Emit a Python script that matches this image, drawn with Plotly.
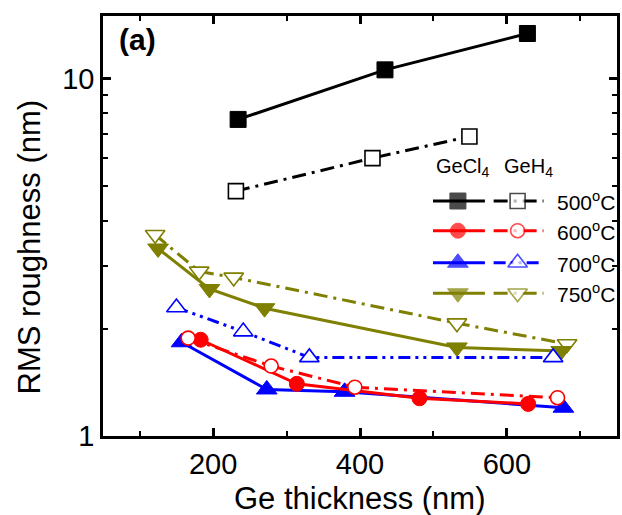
import math
import plotly.graph_objects as go

FONT = "Arial, 'Liberation Sans', Helvetica, sans-serif"

# ---------------- data ----------------
temps = ["500", "600", "700", "750"]

x_gecl4_500 = [234, 434, 628]
y_gecl4_500 = [7.7, 10.6, 13.4]
x_geh4_500 = [231, 417, 549]
y_geh4_500 = [4.85, 6.0, 6.9]

x_gecl4_600 = [183, 314, 481, 629]
y_gecl4_600 = [1.86, 1.40, 1.275, 1.23]
x_geh4_600 = [166, 279, 393, 669]
y_geh4_600 = [1.88, 1.57, 1.37, 1.28]

x_gecl4_700 = [157, 273, 379, 677]
y_gecl4_700 = [1.83, 1.35, 1.33, 1.20]
x_geh4_700 = [150, 241, 331, 663]
y_geh4_700 = [2.29, 1.96, 1.66, 1.66]

x_gecl4_750 = [125, 195, 270, 532, 674]
y_gecl4_750 = [3.35, 2.58, 2.28, 1.77, 1.73]
x_geh4_750 = [121, 181, 228, 532, 682]
y_geh4_750 = [3.66, 2.89, 2.78, 2.07, 1.81]

x_ticks = [200, 400, 600]
y_ticks = [1, 10]
y_ticktext = ["1", "10"]
y_minor = [2, 3, 4, 5, 6, 7, 8, 9]

# ---------------- styles ----------------
colors = {"500": "black", "600": "#FF0000", "700": "#0000FF", "750": "#7F7F00"}
dash_h = {
    "500": "14px,6px,3px,6px",
    "600": "14px,6px,3px,6px",
    "700": "12px,5px,3px,5px,3px,5px",
    "750": "14px,6px,3px,6px",
}
sym = {"500": "square", "600": "circle", "700": "triangle-up", "750": "triangle-down"}
msize = {"500": 16, "600": 15, "700": 18, "750": 18}

data = {
    ("500", "Cl"): (x_gecl4_500, y_gecl4_500),
    ("500", "H"): (x_geh4_500, y_geh4_500),
    ("600", "Cl"): (x_gecl4_600, y_gecl4_600),
    ("600", "H"): (x_geh4_600, y_geh4_600),
    ("700", "Cl"): (x_gecl4_700, y_gecl4_700),
    ("700", "H"): (x_geh4_700, y_geh4_700),
    ("750", "Cl"): (x_gecl4_750, y_gecl4_750),
    ("750", "H"): (x_geh4_750, y_geh4_750),
}

order = [("500", "H"), ("500", "Cl"), ("750", "H"), ("750", "Cl"),
         ("700", "H"), ("700", "Cl"), ("600", "Cl"), ("600", "H")]


def marker_for(t, kind):
    c = colors[t]
    if kind == "Cl":
        return dict(symbol=sym[t], size=msize[t], color=c, line=dict(color=c, width=1))
    return dict(symbol=sym[t], size=msize[t] - 1, color="white", line=dict(color=c, width=1.6))


fig = go.Figure()
for t, kind in order:
    xs, ys = data[(t, kind)]
    fig.add_trace(go.Scatter(
        x=xs, y=ys, mode="lines+markers",
        line=dict(color=colors[t], width=3, dash="solid" if kind == "Cl" else dash_h[t]),
        marker=marker_for(t, kind), showlegend=False, cliponaxis=False,
    ))

# ---------------- custom two-column legend (overlay axes in [0,1]) ----------------
row_y = [0.5595, 0.4888, 0.4126, 0.3398]
col_cl = (0.642, 0.6905, 0.743)
col_h = (0.760, 0.8066, 0.857)
for i, t in enumerate(temps):
    for kind, (a, m, b) in (("Cl", col_cl), ("H", col_h)):
        mk = dict(marker_for(t, kind))
        mk["size"] = [0, mk["size"], 0]
        fig.add_trace(go.Scatter(
            x=[a, m, b], y=[row_y[i]] * 3, xaxis="x2", yaxis="y2",
            mode="lines+markers",
            line=dict(color=colors[t], width=3, dash="solid" if kind == "Cl" else dash_h[t]),
            marker=mk, showlegend=False, hoverinfo="skip", cliponaxis=False,
        ))
    fig.add_annotation(x=0.880, y=row_y[i], xref="paper", yref="paper",
                       text=f"{t}<sup>o</sup>C", showarrow=False,
                       xanchor="left", yanchor="middle",
                       font=dict(family=FONT, size=21, color="black"))

fig.add_annotation(x=0.644, y=0.640, xref="paper", yref="paper", text="GeCl<sub>4</sub>",
                   showarrow=False, xanchor="left", yanchor="middle",
                   font=dict(family=FONT, size=20, color="black"))
fig.add_annotation(x=0.777, y=0.640, xref="paper", yref="paper", text="GeH<sub>4</sub>",
                   showarrow=False, xanchor="left", yanchor="middle",
                   font=dict(family=FONT, size=20, color="black"))

# panel label and axis titles
fig.add_annotation(x=0.068, y=0.945, xref="paper", yref="paper", text="<b>(a)</b>",
                   showarrow=False, xanchor="center", yanchor="middle",
                   font=dict(family=FONT, size=30, color="black"))
fig.add_annotation(x=0.500, y=-0.148, xref="paper", yref="paper", text="Ge thickness (nm)",
                   showarrow=False, xanchor="center", yanchor="middle",
                   font=dict(family=FONT, size=31, color="black"))
fig.add_annotation(x=-0.143, y=0.45, xref="paper", yref="paper", text="RMS roughness (nm)",
                   showarrow=False, xanchor="center", yanchor="middle", textangle=-90,
                   font=dict(family=FONT, size=31, color="black"))

axis_common = dict(
    showgrid=False, zeroline=False, showline=True, linecolor="black", linewidth=2.5,
    mirror="ticks", ticks="inside", ticklen=8, tickwidth=2.5, tickcolor="black",
    tickfont=dict(family=FONT, size=29, color="black"),
)

fig.update_layout(
    width=622, height=515,
    margin=dict(l=103, r=2, t=16, b=79),
    paper_bgcolor="white", plot_bgcolor="white",
    showlegend=False,
    xaxis=dict(range=[50, 750], tickmode="array", tickvals=x_ticks,
               minor=dict(ticks="inside", ticklen=5, tickwidth=2, tickcolor="black",
                          tickmode="linear", tick0=0, dtick=100, showgrid=False),
               **axis_common),
    yaxis=dict(type="log", range=[0, math.log10(15)], tickmode="array",
               tickvals=y_ticks, ticktext=y_ticktext,
               minor=dict(ticks="inside", ticklen=5, tickwidth=2, tickcolor="black",
                          tickmode="array", tickvals=y_minor, showgrid=False),
               **axis_common),
    xaxis2=dict(overlaying="x", range=[0, 1], visible=False, fixedrange=True),
    yaxis2=dict(overlaying="y", range=[0, 1], visible=False, fixedrange=True),
)

fig.write_html(
    "out.html",
    config={"displayModeBar": False, "responsive": False},
    post_script="document.body.style.margin='0';document.body.style.overflow='hidden';",
)
